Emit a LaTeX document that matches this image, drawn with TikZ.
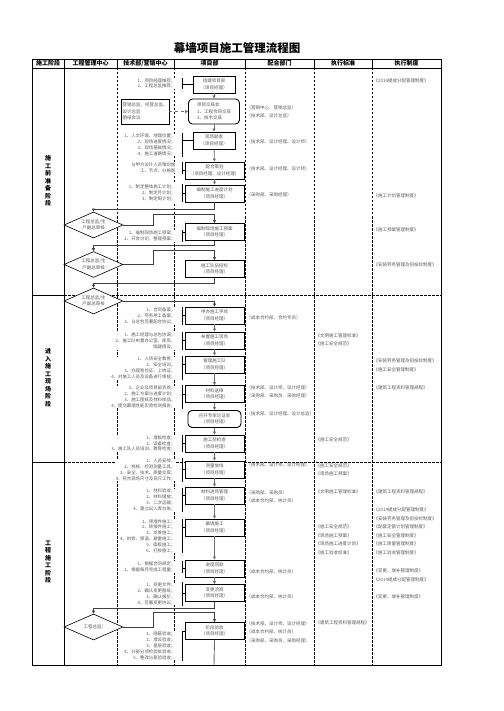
\documentclass[tikz,border=0pt]{standalone}
\usepackage{fontspec}
\setmainfont{Noto Sans CJK SC}
\usepackage{tikz}
\usetikzlibrary{shapes.geometric,arrows.meta,calc}
\definecolor{FlowBlack}{HTML}{000000}
\definecolor{FlowGray}{HTML}{595959}
\definecolor{FlowLine}{HTML}{6E6E6E}
\definecolor{FlowWhite}{HTML}{FFFFFF}
\newcommand{\flowtitlefont}{\fontsize{11.5}{13}\selectfont\bfseries}
\newcommand{\flowheadfont}{\fontsize{6}{7}\selectfont\bfseries}
\newcommand{\flowphasefont}{\fontsize{6}{7.5}\selectfont\bfseries}
\newcommand{\flowboxfont}{\fontsize{4.5}{6.5}\selectfont}
\newcommand{\flowlistfont}{\fontsize{4.4}{5.8}\selectfont}
\newcommand{\flownotefont}{\fontsize{4.5}{8.5}\selectfont}
\tikzset{
    % Base node style
    basenode/.style={
        draw=FlowBlack,
        fill=FlowWhite,
        line width=0.9pt,
        minimum height=17,
        minimum width=59,
        inner sep=1pt,
        align=center,
        text=FlowGray,
        font=\flowboxfont
    },
    % Narrow project box
    narrownode/.style={
        basenode,
        minimum width=42
    },
    % Meeting box
    meetnode/.style={
        basenode,
        rounded corners=4pt,
        align=left
    },
    % Approval diamond
    checknode/.style={
        diamond,
        draw=FlowBlack,
        fill=FlowWhite,
        line width=0.6pt,
        shape aspect=2.3,
        minimum width=59,
        minimum height=26,
        inner sep=0pt,
        align=center,
        text=FlowGray,
        font=\flowboxfont
    },
    % Task list beside a box
    listnode/.style={
        anchor=east,
        align=right,
        fill=FlowWhite,
        inner sep=0.5pt,
        text=FlowGray,
        font=\flowlistfont
    },
    % Notes in the right columns
    notenode/.style={
        anchor=west,
        align=left,
        inner sep=0pt,
        text=FlowGray,
        font=\flownotefont
    },
    % Header text
    headnode/.style={
        inner sep=0pt,
        text=FlowBlack,
        font=\flowheadfont
    },
    % Phase label
    phasenode/.style={
        inner sep=0pt,
        align=center,
        text=FlowBlack,
        font=\flowphasefont
    },
    % Arrow styles
    myarrow/.style={
        -{Triangle[length=3pt,width=3pt]},
        line width=0.9pt,
        draw=FlowLine
    },
    linkarrow/.style={
        myarrow,
        line width=0.7pt,
        draw=FlowBlack!75
    },
    dasharrow/.style={
        myarrow,
        dashed,
        line width=0.6pt
    },
    bracketline/.style={
        line width=0.7pt,
        draw=FlowBlack
    },
    % Table lines
    gridline/.style={
        line width=0.8pt,
        draw=FlowBlack
    },
    laneline/.style={
        gridline,
        dash pattern=on 2.5pt off 1.5pt
    }
}

\begin{document}
\begin{tikzpicture}[x=1pt, y=-1pt]
    \useasboundingbox (0,0) rectangle (503,711);

    % Title
    \node[font=\flowtitlefont] (title) at (237,48) {幕墙项目施工管理流程图};

    % Table frame
    \draw[gridline] (32,59) rectangle (441,665);
    \draw[gridline] (32,68) -- (441,68);
    \draw[gridline] (64,59) -- (64,665);
    \draw[gridline] (117,59) -- (117,68) (174,59) -- (174,68) (245,59) -- (245,68) (314,59) -- (314,68) (372,59) -- (372,68);
    \draw[laneline] (117,68) -- (117,665) (174,68) -- (174,665) (245,68) -- (245,665) (314,68) -- (314,665) (372,68) -- (372,665);
    \draw[gridline] (32,295) -- (64,295) (32,462) -- (64,462);
    \draw[laneline] (64,295) -- (441,295) (64,462) -- (441,462);

    % Headers
    \node[headnode] (h1) at (48,63.5) {施工阶段};
    \node[headnode] (h2) at (90.5,63.5) {工程管理中心};
    \node[headnode] (h3) at (145.5,63.5) {技术部/营销中心};
    \node[headnode] (h4) at (209.5,63.5) {项目部};
    \node[headnode] (h5) at (279.5,63.5) {配合部门};
    \node[headnode] (h6) at (343,63.5) {执行标准};
    \node[headnode] (h7) at (406.5,63.5) {执行制度};

    % Phases
    \node[phasenode] (p1) at (48,181) {施\\工\\前\\准\\备\\阶\\段};
    \node[phasenode] (p2) at (48,378) {进\\入\\施\\工\\现\\场\\阶\\段};
    \node[phasenode] (p3) at (48,562) {工\\程\\施\\工\\阶\\段};

    % Project department boxes
    \node[narrownode] (b1) at (214,84.5) {组建项目部\\（项目经理）};
    \node[meetnode, minimum width=51, minimum height=25] (b2) at (214,111.5) {项目交底会\\1、工程合同交底\\2、技术交底};
    \node[narrownode] (b3) at (214,140.5) {现场勘查\\（项目经理）};
    \node[basenode] (b4) at (214.5,170.5) {配合策划\\（项目经理、设计经理）};
    \node[basenode] (b5) at (214.5,193.5) {编制施工进度计划\\（项目经理）};
    \node[basenode] (b6) at (214.5,232) {编制现场施工预案\\（项目经理）};
    \node[basenode] (b7) at (214.5,269) {施工队伍招标\\（项目经理）};
    \node[basenode] (b8) at (214.5,315.5) {申办施工手续\\（项目经理）};
    \node[basenode] (b9) at (214.5,340.5) {布置施工现场\\（项目经理）};
    \node[basenode] (b10) at (214.5,364.5) {管理施工队\\（项目经理）};
    \node[basenode] (b11) at (214.5,394) {材料送审\\（项目经理）};
    \node[meetnode, align=center, minimum width=53] (b12) at (214.5,419) {召开专家论证会\\（项目经理）};
    \node[basenode] (b13) at (214.5,443.5) {施工前检查\\（项目经理）};
    \node[basenode] (b14) at (214.5,469.5) {测量放线\\（项目经理）};
    \node[basenode] (b15) at (214.5,495.5) {材料进场管理\\（项目经理）};
    \node[basenode] (b16) at (214.5,527.5) {幕墙施工\\（项目经理）};
    \node[basenode] (b17) at (214.5,568.5) {进度回款\\（项目经理）};
    \node[basenode] (b18) at (214.5,593) {变更洽商\\（项目经理）};
    \node[basenode] (b19) at (214.5,631) {阶段验收\\（项目经理）};
    \coordinate (bend) at (214,665);

    % Technical department box
    \node[basenode, minimum width=48, minimum height=25, align=left] (tb) at (145,111.5) {营销总监、经营总监、\\设计总监\\图纸会议};

    % Approvals
    \node[checknode] (d1) at (93.5,225) {工程总监/生\\产副总审核};
    \node[checknode] (d2) at (93.5,264.5) {工程总监/生\\产副总审核};
    \node[checknode] (d3) at (93.5,301) {工程总监/生\\产副总审核};
    \node[checknode] (d4) at (93.5,627) {工程总监/};

    % Task lists
    \coordinate (br) at (182,0);
    \node[listnode] (l1) at (176,83.5) {1、项目经理推荐；\\2、工程总监推荐；};
    \node[listnode] (l3) at (176,145) {1、人文环境、地理位置；\\2、现场进度情况；\\3、现场基础情况；\\4、施工道路情况；};
    \node[listnode] (l4) at (176,168) {与甲方设计人员策划施\\工、节点、分格图};
    \node[listnode] (l5) at (176,193) {1、制定整体施工计划；\\2、制定月计划；\\3、制定周计划；};
    \node[listnode] (l6) at (176,236) {1、编制现场施工预案；\\2、开会讨论，整理预案；};
    \node[listnode] (l8) at (176,316) {1、合同备案；\\2、劳务用工备案；\\3、与总包签署配合协议；};
    \node[listnode] (l9) at (176,341) {1、施工经理与总包协调；\\2、施工队布置办公室、库房，\\临建搭设；};
    \node[listnode] (l10) at (176,368) {1、入场安全教育；\\2、安全培训；\\3、办理暂住证、上岗证；\\4、对施工人员及设备进行审核；};
    \node[listnode] (l11) at (176,397) {1、企业及项目部资质；\\2、施工方案与进度计划；\\3、施工图纸及材料样品；\\4、提交幕墙性能实验检测报告；};
    \node[listnode] (l13) at (176,443.5) {1、埋板检查；\\2、设备检查；\\3、施工队人员培训、教育检查；};
    \node[listnode] (l14) at (176,470) {1、人员安排；\\2、校核、检测测量工具；\\3、安全、技术、质量交底；\\4、符合现场尺寸及现尺工作；};
    \node[listnode] (l15) at (176,500) {1、材料验收；\\2、材料储放；\\3、二次运输；\\4、建立出入库台账；};
    \node[listnode] (l16) at (176,536) {1、预埋件施工；\\2、转接件施工；\\3、龙骨施工；\\4、封修、保温、避雷施工；\\5、面板施工；\\6、打胶施工；};
    \node[listnode] (l17) at (176,567) {1、根据合同规定；\\2、根据每月完成工程量；};
    \node[listnode] (l18) at (176,594) {1、变更文件；\\2、确认变更图纸；\\3、确认报价；\\4、签署变更协议；};
    \node[listnode] (l19) at (176,646) {1、隐蔽验收；\\2、埋设验收；\\3、基层验收；\\4、分部分项检验批验收；\\5、整改与复验验收；};

    % Brackets
    \draw[bracketline] (l1.north east -| br) -- (l1.south east -| br) (b1.west -| br) -- (b1.west);
    \draw[bracketline] (l3.north east -| br) -- (l3.south east -| br) (b3.west -| br) -- (b3.west);
    \draw[bracketline] (l4.north east -| br) -- (l4.south east -| br) (b4.west -| br) -- (b4.west);
    \draw[bracketline] (l5.north east -| br) -- (l5.south east -| br) (b5.west -| br) -- (b5.west);
    \draw[bracketline] (l6.north east -| br) -- (l6.south east -| br) (b6.west -| br) -- (b6.west);
    \draw[bracketline] (l8.north east -| br) -- (l8.south east -| br) (b8.west -| br) -- (b8.west);
    \draw[bracketline] (l9.north east -| br) -- (l9.south east -| br) (b9.west -| br) -- (b9.west);
    \draw[bracketline] (l10.north east -| br) -- (l10.south east -| br) (b10.west -| br) -- (b10.west);
    \draw[bracketline] (l11.north east -| br) -- (l11.south east -| br) (b11.west -| br) -- (b11.west);
    \draw[bracketline] (l13.north east -| br) -- (l13.south east -| br) (b13.west -| br) -- (b13.west);
    \draw[bracketline] (l14.north east -| br) -- (l14.south east -| br) (b14.west -| br) -- (b14.west);
    \draw[bracketline] (l15.north east -| br) -- (l15.south east -| br) (b15.west -| br) -- (b15.west);
    \draw[bracketline] (l16.north east -| br) -- (l16.south east -| br) (b16.west -| br) -- (b16.west);
    \draw[bracketline] (l17.north east -| br) -- (l17.south east -| br) (b17.west -| br) -- (b17.west);
    \draw[bracketline] (l18.north east -| br) -- (l18.south east -| br) (b18.west -| br) -- (b18.west);
    \draw[bracketline] (l19.north east -| br) -- (l19.south east -| br) (b19.west -| br) -- (b19.west);

    % Cooperating departments
    \node[notenode] (c2) at (246.5,112) {（营销中心、营销总监）\\（技术部、设计总监）};
    \node[notenode] (c3) at (246.5,142) {（技术部、设计经理、设计师）};
    \node[notenode] (c4) at (246.5,169) {（技术部、设计经理、设计师）};
    \node[notenode] (c5) at (246.5,195) {（采购部、采购经理）};
    \node[notenode] (c8) at (246.5,318) {（成本合约部、合约专员）};
    \node[notenode] (c11) at (246.5,392) {（技术部、设计师、设计经理）\\（采购部、采购员、采购经理）};
    \node[notenode] (c12) at (246.5,414) {（技术部、设计经理、设计总监）};
    \node[notenode] (c14) at (246.5,465) {（技术部、设计师、设计经理）};
    \node[notenode] (c15) at (246.5,497) {（采购部、采购员）\\（成本合约部、统计员）};
    \node[notenode] (c17) at (246.5,572) {（成本合约部、统计员）};
    \node[notenode] (c18) at (246.5,597) {（成本合约部、统计员）};
    \node[notenode] (c19) at (246.5,632) {（技术部、设计师、设计经理）\\（成本合约部、统计员）\\（采购部、采购员、采购经理）};

    % Standards
    \node[notenode] (s9) at (315.5,340) {《文明施工管理标准》\\《施工安全规范》};
    \node[notenode] (s13) at (315.5,440) {《施工安全规范》};
    \node[notenode] (s14) at (315.5,470) {《施工安全规范》\\《现场施工预案》};
    \node[notenode] (s15) at (315.5,492) {《文明施工管理标准》};
    \node[notenode] (s16) at (315.5,540) {《施工安全规范》\\《现场施工预案》\\《现场施工进度计划》\\《施工验收标准》};
    \node[notenode] (s19) at (315.5,623) {《建筑工程资料管理规程》};

    % Rules
    \node[notenode] (r1) at (373.5,81) {《2014提成分配管理制度》};
    \node[notenode] (r5) at (373.5,196) {《施工计划管理制度》};
    \node[notenode] (r6) at (373.5,230) {《施工预案管理制度》};
    \node[notenode] (r7) at (373.5,265) {《安装劳务管理及招投标制度》};
    \node[notenode] (r10) at (373.5,365.5) {《安装劳务管理及招投标制度》\\《施工安全管理制度》};
    \node[notenode] (r11) at (373.5,388) {《建筑工程资料管理规程》};
    \node[notenode] (r15) at (373.5,492) {《建筑工程资料管理规程》};
    \node[notenode] (r16) at (373.5,531.5) {《2014提成分配管理制度》\\《安装劳务管理及招投标制度》\\《配套定额计划管理制度》\\《施工安全管理制度》\\《施工质量管理制度》\\《施工验收管理制度》};
    \node[notenode] (r17) at (373.5,575.5) {《变更、增补管理制度》\\《2014提成分配管理制度》};
    \node[notenode] (r18) at (373.5,597) {《变更、增补管理制度》};

    % Arrows
    \draw[dasharrow] (tb) -- (b2);
    \draw[myarrow] (b1) -- (b2);
    \draw[myarrow] (b2) -- (b3);
    \draw[myarrow] (b3) -- (b4);
    \draw[myarrow] (b4) -- (b5);
    \draw[linkarrow] (b5.south) -- ++(0,7) -| (d1.north);
    \draw[linkarrow] (d1.east) -- ++(30,0) |- ($(b6.north)+(0,-9)$) -- (b6.north);
    \draw[linkarrow] (b6.south) -- ++(0,4) -| (d2.north);
    \draw[linkarrow] (d2.east) -- ++(30,0) |- ($(b7.north)+(0,-10)$) -- (b7.north);
    \draw[linkarrow] (b7.south) -- ++(0,5) -| (d3.north);
    \draw[linkarrow] (d3.east) -| (b8.north);
    \draw[myarrow] (b8) -- (b9);
    \draw[myarrow] (b9) -- (b10);
    \draw[myarrow] (b10) -- (b11);
    \draw[myarrow] (b11) -- (b12);
    \draw[myarrow] (b12) -- (b13);
    \draw[myarrow] (b13) -- (b14);
    \draw[myarrow] (b14) -- (b15);
    \draw[myarrow] (b15) -- (b16);
    \draw[myarrow] (b16) -- (b17);
    \draw[myarrow] (b17) -- (b18);
    \draw[linkarrow] (b18.south) -- ++(0,6) -| (d4.north);
    \draw[linkarrow] (d4.east) -- ++(30,0) |- ($(b19.north)+(0,-10)$) -- (b19.north);
    \draw[line width=0.9pt, draw=FlowLine] (b19.south) -- (bend);
\end{tikzpicture}
\end{document}
